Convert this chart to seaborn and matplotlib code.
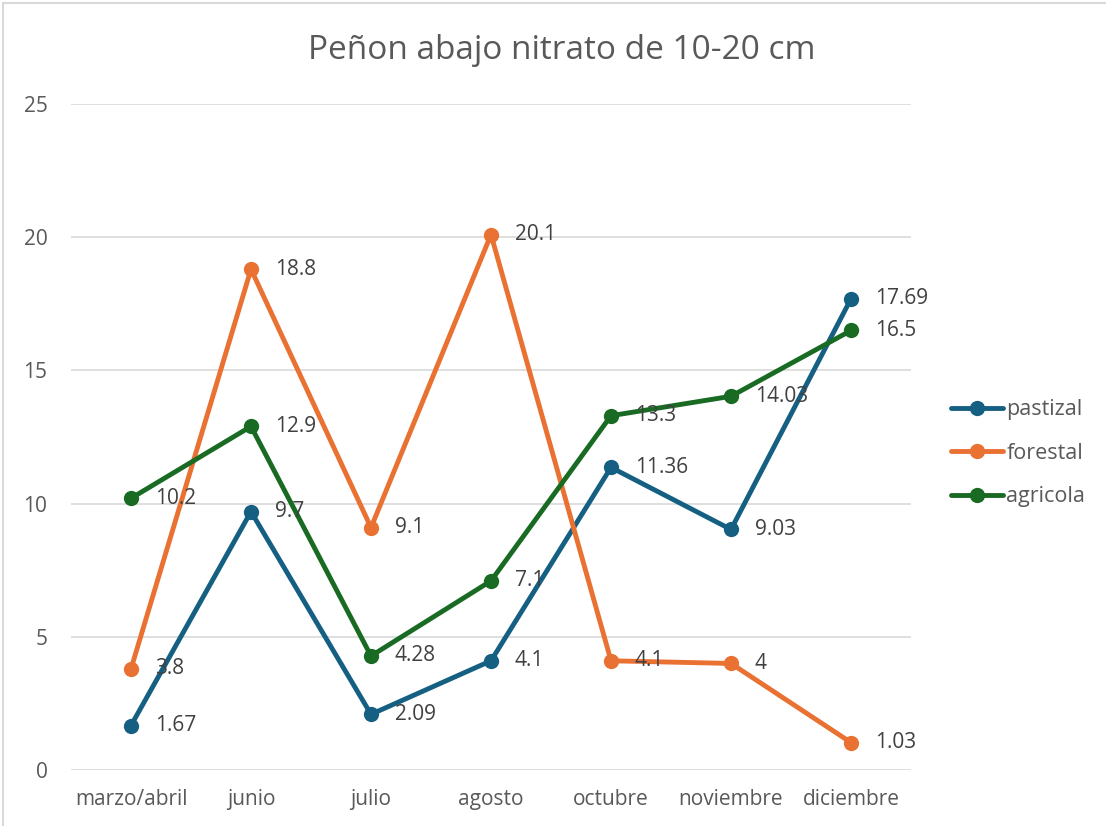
import pandas as pd
import matplotlib.pyplot as plt
import seaborn as sns
from matplotlib.patches import Rectangle

# datos
meses = ["marzo/abril", "junio", "julio", "agosto", "octubre", "noviembre", "diciembre"]
pastizal = [1.67, 9.7, 2.09, 4.1, 11.36, 9.03, 17.69]
forestal = [3.8, 18.8, 9.1, 20.1, 4.1, 4, 1.03]
agricola = [10.2, 12.9, 4.28, 7.1, 13.3, 14.03, 16.5]
series = ["pastizal", "forestal", "agricola"]
colores = ["#156082", "#E97132", "#196B24"]

df = pd.DataFrame({
    "mes": meses * 3,
    "pos": list(range(len(meses))) * 3,
    "valor": pastizal + forestal + agricola,
    "serie": [s for s in series for _ in meses],
})

sns.set_style("white")
plt.rcParams['font.family'] = ['Open Sans', 'DejaVu Sans']

fig = plt.figure(figsize=(11.06, 8.26), dpi=100)
ax = fig.add_axes([0.0642, 0.0678, 0.7595, 0.8062])

sns.lineplot(data=df, x="pos", y="valor", hue="serie", hue_order=series,
             palette=colores, marker="o", markersize=11, markeredgewidth=0,
             linewidth=3.5, sort=False, ax=ax)

# etiquetas de datos
for s, c in zip(series, colores):
    sub = df[df["serie"] == s]
    for x, y in zip(sub["pos"], sub["valor"]):
        ax.annotate(f"{y:g}", (x, y), xytext=(17, 0), textcoords="offset points",
                    va="center", ha="left", fontsize=15, color="#404040")

ax.set_xlim(-0.5, len(meses) - 0.5)
ax.set_ylim(0, 25)
ax.set_yticks([0, 5, 10, 15, 20, 25])
ax.set_xticks(range(len(meses)))
ax.set_xticklabels(meses)
ax.yaxis.grid(True, color="#D9D9D9", linewidth=1.2)
ax.set_axisbelow(True)
for sp in ax.spines.values():
    sp.set_visible(False)
ax.tick_params(axis="both", length=0, labelsize=15, labelcolor="#595959")
ax.tick_params(axis="x", pad=14)
ax.tick_params(axis="y", pad=17)
ax.set_xlabel("")
ax.set_ylabel("")

fig.text(0.508, 0.939, "Peñon abajo nitrato de 10-20 cm", fontsize=24,
         color="#595959", ha="center", va="center")

ax.legend(loc="center left", bbox_to_anchor=(1.025, 0.4755), frameon=False,
          fontsize=15.5, labelcolor="#595959", handlelength=2.4, handletextpad=0.15,
          labelspacing=1.05)

fig.patches.append(Rectangle((0.003, -0.01), 1.2, 1.006, transform=fig.transFigure,
                             fill=False, edgecolor="#D9D9D9", linewidth=1.5))

plt.savefig("out.png", dpi=100)
